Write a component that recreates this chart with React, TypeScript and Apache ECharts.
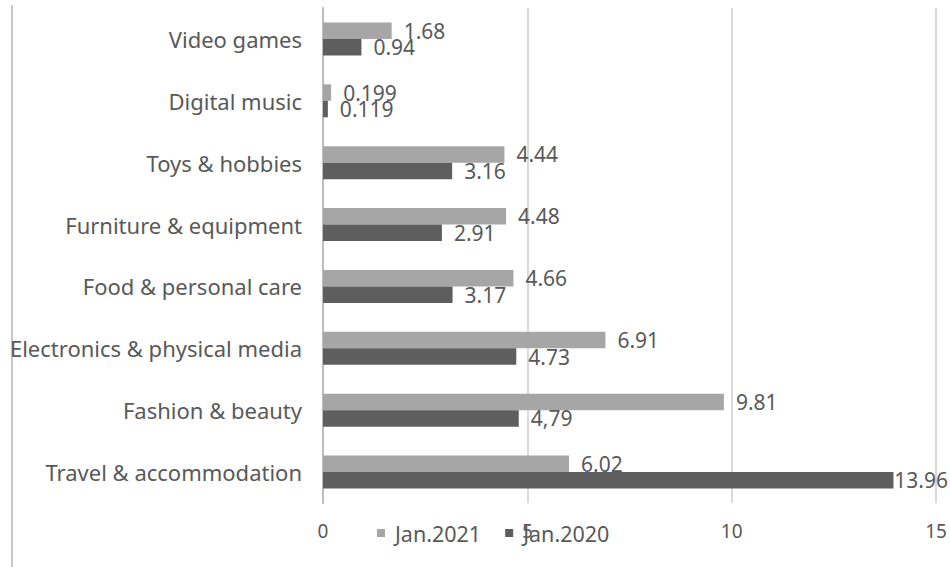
import React, { useEffect, useRef } from "react";
import * as echarts from "echarts";

const categories = [
  "Travel & accommodation",
  "Fashion & beauty",
  "Electronics & physical media",
  "Food & personal care",
  "Furniture & equipment",
  "Toys & hobbies",
  "Digital music",
  "Video games",
];
const jan2021 = [6.02, 9.81, 6.91, 4.66, 4.48, 4.44, 0.199, 1.68];
const jan2020 = [13.96, 4.79, 4.73, 3.17, 2.91, 3.16, 0.119, 0.94];
const jan2021Labels = ["6.02", "9.81", "6.91", "4.66", "4.48", "4.44", "0.199", "1.68"];
const jan2020Labels = ["13.96", "4,79", "4.73", "3.17", "2.91", "3.16", "0.119", "0.94"];
const seriesNames = ["Jan.2021", "Jan.2020"];
const xTicks = [0, 5, 10, 15];

const FONT = "'Noto Sans', Lato, sans-serif";
const TEXT = "#595959";
const W = 950;
const H = 567;

export default function App() {
  const ref = useRef<HTMLDivElement>(null);
  useEffect(() => {
    if (!ref.current) return;
    const chart = echarts.init(ref.current, undefined, { renderer: "svg" });
    chart.setOption({
      animation: false,
      backgroundColor: "#ffffff",
      textStyle: { fontFamily: FONT },
      grid: { left: 323, right: 14, top: 8, bottom: 64, containLabel: false },
      legend: {
        data: seriesNames,
        left: 377,
        top: 522,
        padding: 0,
        itemWidth: 8,
        itemHeight: 8,
        itemGap: 24,
        icon: "rect",
        textStyle: { color: TEXT, fontSize: 21.5, fontFamily: FONT, padding: [0, 0, 0, 5] },
      },
      xAxis: {
        type: "value",
        min: xTicks[0],
        max: xTicks[xTicks.length - 1],
        interval: 5,
        axisLine: { show: false },
        axisTick: { show: false },
        splitLine: { show: true, lineStyle: { color: "#cfcfcf", width: 1.5 } },
        axisLabel: { color: TEXT, fontSize: 19, margin: 18, fontFamily: FONT },
      },
      yAxis: {
        type: "category",
        data: categories,
        axisLine: { show: true, lineStyle: { color: "#bdbdbd", width: 2 } },
        axisTick: { show: false },
        axisLabel: { color: TEXT, fontSize: 22, margin: 21, fontFamily: FONT },
      },
      labelLayout: (p: any) => {
        const r = p.labelRect;
        if (r && r.x + r.width > W - 2) {
          return { dx: W - 2 - (r.x + r.width) };
        }
        return {};
      },
      series: [
        {
          name: seriesNames[0],
          type: "bar",
          data: jan2021,
          barWidth: 16.5,
          barGap: "0%",
          itemStyle: { color: "#a6a6a6" },
          label: {
            show: true,
            position: "right",
            distance: 12,
            offset: [0, -4],
            color: TEXT,
            fontSize: 21,
            fontFamily: FONT,
            formatter: (p: any) => jan2021Labels[p.dataIndex],
          },
        },
        {
          name: seriesNames[1],
          type: "bar",
          data: jan2020,
          barWidth: 16.5,
          barGap: "0%",
          itemStyle: { color: "#5e5e5e" },
          label: {
            show: true,
            position: "right",
            distance: 12,
            color: TEXT,
            fontSize: 21,
            fontFamily: FONT,
            formatter: (p: any) => jan2020Labels[p.dataIndex],
          },
        },
      ],
      graphic: [
        {
          type: "line",
          shape: { x1: 12, y1: 5, x2: 12, y2: H },
          style: { stroke: "#c8c8c8", lineWidth: 2 },
        },
      ],
    });
    return () => chart.dispose();
  }, []);
  return (
    <div
      ref={ref}
      style={{ position: "fixed", left: 0, top: 0, width: W, height: H, background: "#fff" }}
    />
  );
}
